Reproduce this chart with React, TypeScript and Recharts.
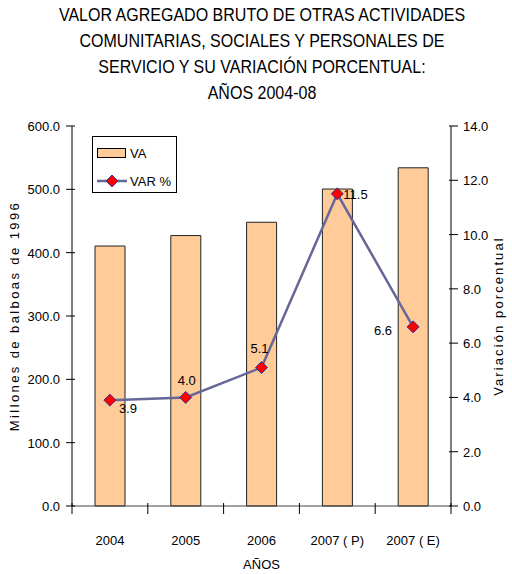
import { ComposedChart, Bar, Line, XAxis, YAxis, Legend, Label } from 'recharts'

const years = ['2004', '2005', '2006', '2007 ( P)', '2007 ( E)']
const vaValues = [410.5, 427, 448, 500.5, 534]
const varValues = [3.9, 4.0, 5.1, 11.5, 6.6]
const leftTicks = [0, 100, 200, 300, 400, 500, 600]
const rightTicks = [0, 2, 4, 6, 8, 10, 12, 14]
const titleLines = [
  'VALOR AGREGADO BRUTO DE OTRAS ACTIVIDADES',
  'COMUNITARIAS, SOCIALES Y PERSONALES DE',
  'SERVICIO Y SU VARIACIÓN PORCENTUAL:',
  'AÑOS 2004-08',
]

const data = years.map((year, i) => ({ year, va: vaValues[i], pct: varValues[i] }))

// where each point label sits relative to its marker
const labelPlacement = [
  { dx: 9, dy: 13, anchor: 'start' },
  { dx: 1, dy: -12, anchor: 'middle' },
  { dx: -2, dy: -15, anchor: 'middle' },
  { dx: 6, dy: 5, anchor: 'start' },
  { dx: -21, dy: 8, anchor: 'end' },
]

const W = 512
const H = 574
const margin = { top: 126, right: 21, bottom: 28, left: 0 }
const leftW = 72
const rightW = 40
const bandW = (W - margin.left - margin.right - leftW - rightW) / years.length

const font = '"Liberation Sans", Arial, sans-serif'
const barColor = '#FFCC99'
const lineColor = '#666699'

const YTick = (side: 'left' | 'right') => (props: any) => {
  const { x, y, payload } = props
  return (
    <g>
      <line x1={x - 4} x2={x + 5} y1={y} y2={y} stroke="#000" />
      <text
        x={side === 'left' ? x - 10 : x + 10}
        y={y + 5}
        textAnchor={side === 'left' ? 'end' : 'start'}
        fontSize={13}
        fontFamily={font}
        fill="#000"
      >
        {Number(payload.value).toFixed(1)}
      </text>
    </g>
  )
}

const XTick = (props: any) => {
  const { x, y, payload, index } = props
  const left = x - bandW / 2
  return (
    <g>
      <line x1={left} x2={left} y1={y - 5} y2={y + 6} stroke="#000" />
      {index === years.length - 1 && (
        <line x1={left + bandW} x2={left + bandW} y1={y - 5} y2={y + 6} stroke="#000" />
      )}
      <text x={x} y={y + 37} textAnchor="middle" fontSize={13} fontFamily={font} fill="#000">
        {payload.value}
      </text>
    </g>
  )
}

const Diamond = (props: any) => {
  const { cx, cy, index, value } = props
  if (cx == null || cy == null) return null
  const p = labelPlacement[index]
  const r = 6
  return (
    <g key={'d' + index}>
      <polygon
        points={`${cx},${cy - r} ${cx + r},${cy} ${cx},${cy + r} ${cx - r},${cy}`}
        fill="#FF0000"
        stroke="#333399"
        strokeWidth={1}
      />
      <text
        x={cx + p.dx}
        y={cy + p.dy}
        textAnchor={p.anchor as any}
        fontSize={13}
        fontFamily={font}
        fill="#000"
      >
        {Number(value).toFixed(1)}
      </text>
    </g>
  )
}

const LegendBox = () => (
  <div
    style={{
      border: '1px solid #000',
      background: '#fff',
      width: 83,
      height: 55,
      position: 'relative',
    }}
  >
    <svg width={83} height={55} style={{ position: 'absolute', left: 0, top: 0 }}>
      <rect x={4.5} y={11.5} width={28} height={9} fill={barColor} stroke="#000" />
      <text x={37} y={21} fontSize={13} fontFamily={font}>VA</text>
      <line x1={4} x2={34} y1={44} y2={44} stroke={lineColor} strokeWidth={2.5} />
      <polygon points="19,38 25,44 19,50 13,44" fill="#FF0000" stroke="#333399" />
      <text x={37} y={49} fontSize={13} fontFamily={font}>VAR %</text>
    </svg>
  </div>
)

export default function App() {
  return (
    <div style={{ position: 'absolute', left: 0, top: 0, width: W, height: H, background: '#fff' }}>
      <div
        style={{
          position: 'absolute',
          left: 6,
          top: 2,
          width: W,
          textAlign: 'center',
          fontFamily: font,
          fontSize: 18,
          lineHeight: '26px',
          color: '#000',
          transform: 'scaleX(0.89)',
          transformOrigin: '50% 0',
        }}
      >
        {titleLines.map((t) => (
          <div key={t}>{t}</div>
        ))}
      </div>
      <ComposedChart width={W} height={H} data={data} margin={margin} barSize={30}>
        <XAxis
          dataKey="year"
          tickSize={0}
          tick={XTick}
          height={40}
          stroke="#444"
          interval={0}
        >
          <Label
            value="AÑOS"
            position="insideBottom"
            offset={-23}
            fontSize={13}
            fontFamily={font}
            fill="#000"
          />
        </XAxis>
        <YAxis
          yAxisId="left"
          orientation="left"
          domain={[0, 600]}
          ticks={leftTicks}
          width={leftW}
          tickSize={0}
          tick={YTick('left')}
          stroke="#000"
          interval={0}
        >
          <Label
            content={(p: any) => {
              const vb = p.viewBox
              const cx = 16
              const cy = vb.y + vb.height / 2
              return (
                <text
                  x={cx}
                  y={cy}
                  transform={`rotate(-90 ${cx} ${cy})`}
                  textAnchor="middle"
                  dominantBaseline="middle"
                  fontSize={13}
                  fontFamily={font}
                  letterSpacing={2.4}
                  fill="#000"
                >
                  Millones de balboas de 1996
                </text>
              )
            }}
          />
        </YAxis>
        <YAxis
          yAxisId="right"
          orientation="right"
          domain={[0, 14]}
          ticks={rightTicks}
          width={rightW}
          tickSize={0}
          tick={YTick('right')}
          stroke="#000"
          interval={0}
        >
          <Label
            content={(p: any) => {
              const vb = p.viewBox
              const cx = 500
              const cy = vb.y + vb.height / 2
              return (
                <text
                  x={cx}
                  y={cy}
                  transform={`rotate(-90 ${cx} ${cy})`}
                  textAnchor="middle"
                  dominantBaseline="middle"
                  fontSize={13}
                  fontFamily={font}
                  letterSpacing={2.1}
                  fill="#000"
                >
                  Variación porcentual
                </text>
              )
            }}
          />
        </YAxis>
        <Legend
          layout="vertical"
          align="center"
          verticalAlign="middle"
          content={LegendBox}
          wrapperStyle={{ left: 92, top: 136, width: 'auto' }}
        />
        <Bar
          yAxisId="left"
          dataKey="va"
          name="VA"
          fill={barColor}
          stroke="#222"
          strokeWidth={1}
          isAnimationActive={false}
        />
        <Line
          yAxisId="right"
          dataKey="pct"
          name="VAR %"
          stroke={lineColor}
          strokeWidth={2.5}
          dot={Diamond}
          activeDot={false}
          isAnimationActive={false}
        />
      </ComposedChart>
    </div>
  )
}
